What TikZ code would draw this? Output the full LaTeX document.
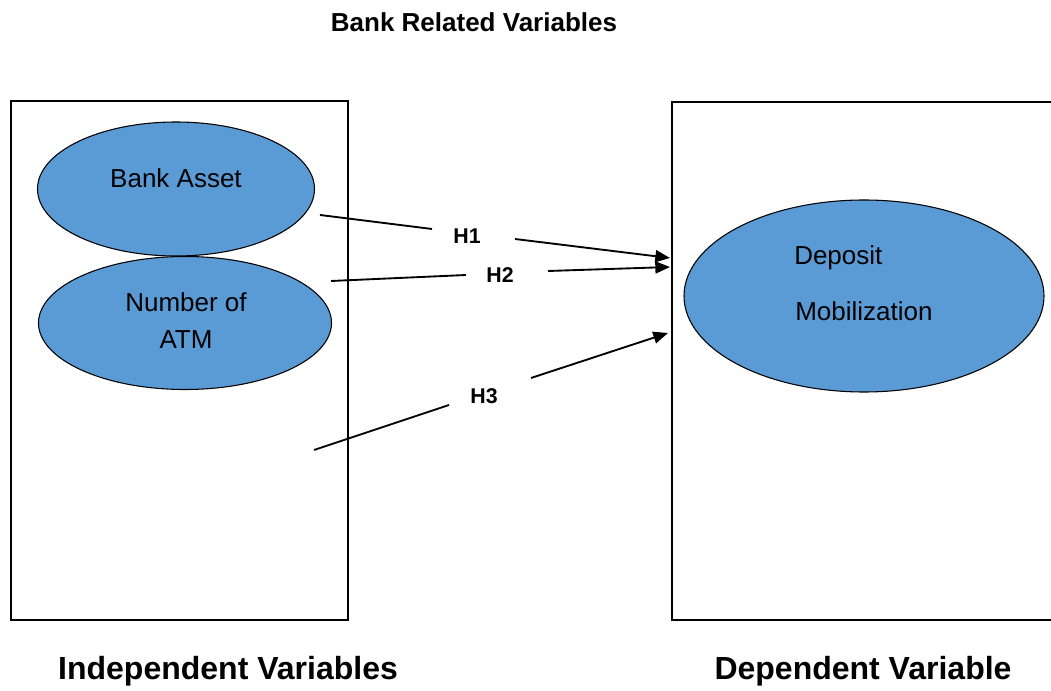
\documentclass[tikz,border=0pt]{standalone}
\usepackage{fontspec}
\setmainfont{Liberation Sans}
\usetikzlibrary{shapes.geometric,arrows.meta}
\definecolor{ellblue}{RGB}{91,155,213}
\tikzset{
  oval/.style={ellipse, draw=black, line width=0.8pt, fill=ellblue, inner sep=0pt},
  ovaltext/.style={font=\fontsize{19.5}{23}\selectfont, inner sep=0pt},
  hlabel/.style={font=\fontsize{16}{19}\selectfont\bfseries, inner sep=0pt},
  title/.style={font=\fontsize{19.5}{23}\selectfont\bfseries, inner sep=0pt},
  caption/.style={font=\fontsize{24}{28}\selectfont\bfseries, inner sep=0pt},
  frame/.style={draw=black, line width=1.4pt},
  link/.style={line width=1.4pt},
  arrowlink/.style={line width=1.4pt, -{Triangle[length=11pt,width=9pt]}},
}
\begin{document}
\begin{tikzpicture}[x=0.75pt,y=-0.75pt]
\useasboundingbox (0,0) rectangle (1051,691);
% frames
\node[frame, rectangle, minimum width=252.75pt, minimum height=389.25pt, inner sep=0pt] (leftbox) at (179.5,360.5) {};
\coordinate (rtl) at (1051,102);
\coordinate (rt) at (672,102);
\coordinate (rb) at (672,620);
\coordinate (rbr) at (1051,620);
\draw[frame] (rtl) -- (rt) -- (rb) -- (rbr);
% ellipses
\node[oval, minimum width=207.75pt, minimum height=100.5pt] (asset) at (176,189) {};
\node[oval, minimum width=219.75pt, minimum height=99.75pt] (atm) at (185,323) {};
\node[oval, minimum width=270pt, minimum height=144pt] (deposit) at (864,296) {};
% texts
\node[ovaltext] (tasset) at (176,178) {Bank Asset};
\node[ovaltext] (tatm1) at (186,302) {Number of};
\node[ovaltext] (tatm2) at (186,340) {ATM};
\node[ovaltext, anchor=west] (tdep1) at (794,258) {Deposit};
\node[ovaltext, anchor=west] (tdep2) at (795,311) {Mobilization};
\node[title] (ttl) at (474,22) {Bank Related Variables};
\node[caption] (cind) at (228,671) {Independent Variables};
\node[caption] (cdep) at (863,671) {Dependent Variable};
% H1
\coordinate (s1) at (320,215);
\coordinate (g1a) at (432,229);
\coordinate (g1b) at (515,239);
\coordinate (e1) at (670,258);
\draw[link] (s1) -- (g1a);
\draw[arrowlink] (g1b) -- (e1);
\node[hlabel] (h1) at (467,236) {H1};
% H2
\coordinate (s2) at (331,281);
\coordinate (g2a) at (466,275);
\coordinate (g2b) at (548,271);
\coordinate (e2) at (670,267);
\draw[link] (s2) -- (g2a);
\draw[arrowlink] (g2b) -- (e2);
\node[hlabel] (h2) at (500,275) {H2};
% H3
\coordinate (s3) at (314,450);
\coordinate (g3a) at (449,405);
\coordinate (g3b) at (531,378);
\coordinate (e3) at (668,333);
\draw[link] (s3) -- (g3a);
\draw[arrowlink] (g3b) -- (e3);
\node[hlabel] (h3) at (484,396) {H3};
\end{tikzpicture}
\end{document}
